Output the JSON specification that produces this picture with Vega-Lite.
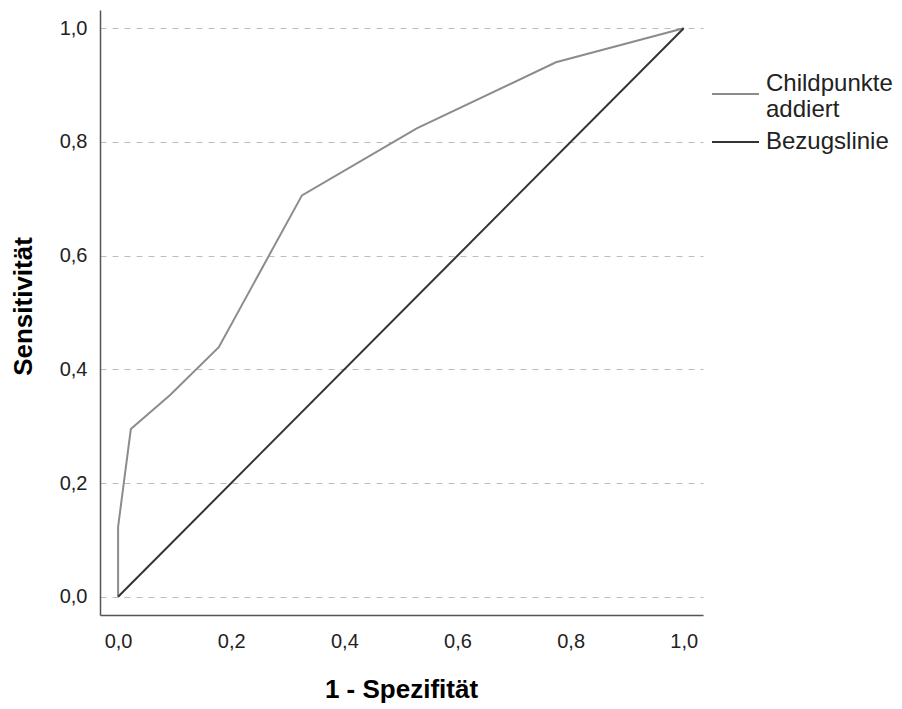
{
  "$schema": "https://vega.github.io/schema/vega-lite/v6.json",
  "autosize": {"type": "none"},
  "width": 603,
  "height": 605,
  "padding": {"left": 100, "top": 10, "right": 199, "bottom": 94},
  "background": "white",
  "config": {
    "view": {"stroke": null},
    "font": "Liberation Sans",
    "axis": {"labelFont": "Liberation Sans", "titleFont": "Liberation Sans"},
    "legend": {"labelFont": "Liberation Sans"}
  },
  "data": {
    "values": [
      {"series": "Childpunkte addiert", "i": 0, "fpr": 0.0, "tpr": 0.0},
      {"series": "Childpunkte addiert", "i": 1, "fpr": 0.0, "tpr": 0.123},
      {"series": "Childpunkte addiert", "i": 2, "fpr": 0.0225, "tpr": 0.295},
      {"series": "Childpunkte addiert", "i": 3, "fpr": 0.092, "tpr": 0.355},
      {"series": "Childpunkte addiert", "i": 4, "fpr": 0.178, "tpr": 0.439},
      {"series": "Childpunkte addiert", "i": 5, "fpr": 0.325, "tpr": 0.706},
      {"series": "Childpunkte addiert", "i": 6, "fpr": 0.528, "tpr": 0.824},
      {"series": "Childpunkte addiert", "i": 7, "fpr": 0.774, "tpr": 0.94},
      {"series": "Childpunkte addiert", "i": 8, "fpr": 1.0, "tpr": 1.0},
      {"series": "Bezugslinie", "i": 0, "fpr": 0.0, "tpr": 0.0},
      {"series": "Bezugslinie", "i": 1, "fpr": 1.0, "tpr": 1.0}
    ]
  },
  "mark": {"type": "line", "strokeWidth": 2, "clip": false},
  "encoding": {
    "x": {
      "field": "fpr",
      "type": "quantitative",
      "scale": {"domain": [-0.032, 1.034], "nice": false, "zero": false},
      "axis": {
        "values": [0, 0.2, 0.4, 0.6, 0.8, 1.0],
        "labelExpr": "replace(format(datum.value, '.1f'), '.', ',')",
        "grid": false,
        "ticks": false,
        "domainColor": "#555555",
        "domainWidth": 1.5,
        "labelFontSize": 20,
        "labelColor": "#222222",
        "labelPadding": 16,
        "title": "1 - Spezifität",
        "titleFontSize": 26,
        "titleFontWeight": "bold",
        "titleColor": "#000000",
        "titleX": 301,
        "titleY": 74,
        "titleBaseline": "middle",
        "titleAlign": "center"
      }
    },
    "y": {
      "field": "tpr",
      "type": "quantitative",
      "scale": {"domain": [-0.032, 1.032], "nice": false, "zero": false},
      "axis": {
        "values": [0, 0.2, 0.4, 0.6, 0.8, 1.0],
        "labelExpr": "replace(format(datum.value, '.1f'), '.', ',')",
        "grid": true,
        "gridDash": [6, 6],
        "gridColor": "#bdbdbd",
        "gridWidth": 1.2,
        "ticks": false,
        "domainColor": "#555555",
        "domainWidth": 1.5,
        "labelFontSize": 20,
        "labelColor": "#222222",
        "labelPadding": 13,
        "title": "Sensitivität",
        "titleFontSize": 26,
        "titleFontWeight": "bold",
        "titleColor": "#000000",
        "titleX": -77,
        "titleY": 296,
        "titleBaseline": "middle",
        "titleAlign": "center",
        "titleAngle": -90
      }
    },
    "color": {
      "field": "series",
      "type": "nominal",
      "scale": {"domain": ["Childpunkte addiert", "Bezugslinie"], "range": ["#8c8c8c", "#333333"]},
      "legend": {
        "title": null,
        "orient": "none",
        "legendX": 611,
        "legendY": 64,
        "symbolType": "stroke",
        "symbolSize": 2209,
        "symbolStrokeWidth": 2,
        "labelFontSize": 24,
        "labelColor": "#222222",
        "labelOffset": 6,
        "rowPadding": 0,
        "clipHeight": 40,
        "labelExpr": "datum.label == 'Childpunkte addiert' ? ['Childpunkte', 'addiert'] : datum.label",
        "encode": {
          "labels": {
            "update": {
              "dy": {"signal": "datum.value == 'Childpunkte addiert' ? -10 : 0"}
            }
          }
        }
      }
    },
    "order": {"field": "i", "type": "quantitative"}
  }
}
